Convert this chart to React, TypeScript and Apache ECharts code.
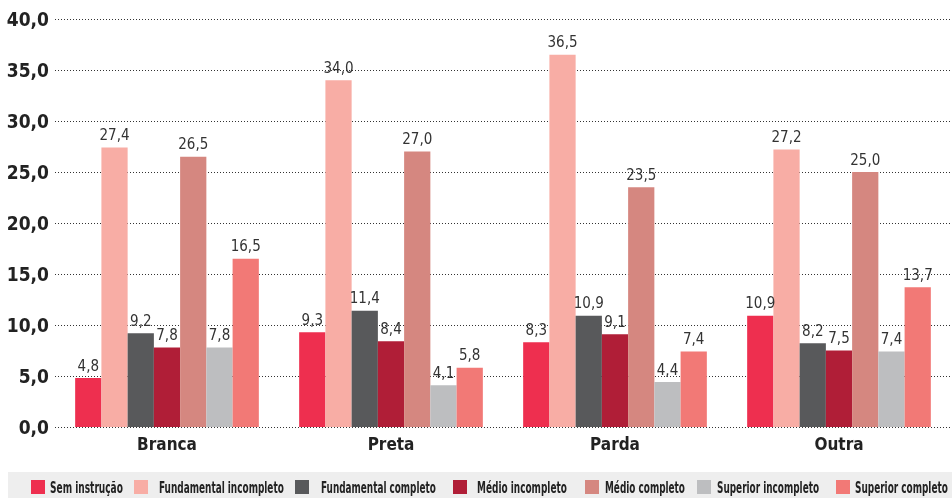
import React, { useEffect, useRef } from "react";
import * as echarts from "echarts";

const categories = ["Branca", "Preta", "Parda", "Outra"];
const seriesNames = [
  "Sem instrução",
  "Fundamental incompleto",
  "Fundamental completo",
  "Médio incompleto",
  "Médio completo",
  "Superior incompleto",
  "Superior completo",
];
const semInstrucao = [4.8, 9.3, 8.3, 10.9];
const fundIncompleto = [27.4, 34.0, 36.5, 27.2];
const fundCompleto = [9.2, 11.4, 10.9, 8.2];
const medioIncompleto = [7.8, 8.4, 9.1, 7.5];
const medioCompleto = [26.5, 27.0, 23.5, 25.0];
const supIncompleto = [7.8, 4.1, 4.4, 7.4];
const supCompleto = [16.5, 5.8, 7.4, 13.7];
const seriesValues = [semInstrucao, fundIncompleto, fundCompleto, medioIncompleto, medioCompleto, supIncompleto, supCompleto];
const colors = ["#EE2F4F", "#F8ADA5", "#58595B", "#B01E37", "#D58780", "#BDBEC0", "#F27976"];

// legend layout (pixels)
const legendIconX = [31, 134, 295, 453, 585, 697, 836];
const legendTextX = [50, 159, 321, 477, 605, 717, 855];
const legendTextW = [73, 125, 115, 90, 80, 102, 93];

const FONT = "'DejaVu Sans Condensed', 'DejaVu Sans', sans-serif";
const LEGEND_FONT_SIZE = 15.5;
const fmt = (v: number) => v.toFixed(1).replace(".", ",");

function measure(text: string, font: string) {
  const ctx = document.createElement("canvas").getContext("2d");
  if (!ctx) return text.length * 7;
  ctx.font = font;
  return ctx.measureText(text).width;
}

export default function App() {
  const ref = useRef<HTMLDivElement>(null);
  useEffect(() => {
    if (!ref.current) return;
    const chart = echarts.init(ref.current, undefined, { renderer: "svg" });
    const legendGraphics: any[] = [];
    seriesNames.forEach((name, i) => {
      legendGraphics.push({
        type: "rect",
        x: legendIconX[i],
        y: 480,
        shape: { width: 14, height: 14 },
        style: { fill: colors[i] },
      });
      const w = measure(name, `bold ${LEGEND_FONT_SIZE}px ${FONT}`);
      legendGraphics.push({
        type: "text",
        x: legendTextX[i],
        y: 487.5,
        scaleX: legendTextW[i] / w,
        style: {
          text: name,
          fontFamily: FONT,
          fontSize: LEGEND_FONT_SIZE,
          fontWeight: "bold",
          fill: "#222",
          verticalAlign: "middle",
          align: "left",
        },
      });
    });
    chart.setOption({
      animation: false,
      textStyle: { fontFamily: FONT },
      grid: { left: 55, right: 1, top: 19, bottom: 71, containLabel: false },
      graphic: [
        {
          type: "rect",
          x: 8,
          y: 472,
          shape: { width: 944, height: 26 },
          style: { fill: "#EEEEEE" },
          z: -1,
        },
        ...legendGraphics,
      ],
      xAxis: {
        type: "category",
        data: categories,
        axisLine: { show: false },
        axisTick: { show: false },
        axisLabel: { fontFamily: FONT, fontSize: 17, fontWeight: "bold", color: "#222", margin: 8 },
      },
      yAxis: {
        type: "value",
        min: 0,
        max: 40,
        interval: 5,
        axisLine: { show: false },
        axisTick: { show: false },
        axisLabel: { fontFamily: FONT, fontSize: 19, fontWeight: "bold", color: "#222", margin: 6, formatter: (v: number) => fmt(v) },
        splitLine: { show: true, lineStyle: { color: "#333", type: [1, 2], width: 1 } },
      },
      series: seriesNames.map((name, i) => ({
        name,
        type: "bar",
        data: seriesValues[i],
        barGap: "0%",
        barCategoryGap: "18%",
        itemStyle: { color: colors[i] },
        label: {
          show: true,
          position: "top",
          distance: 5,
          fontFamily: FONT,
          fontSize: 15,
          color: "#333",
          formatter: (p: any) => fmt(p.value),
        },
      })),
    });
    return () => chart.dispose();
  }, []);
  return <div ref={ref} style={{ position: "fixed", left: 0, top: 0, width: 952, height: 498 }} />;
}
